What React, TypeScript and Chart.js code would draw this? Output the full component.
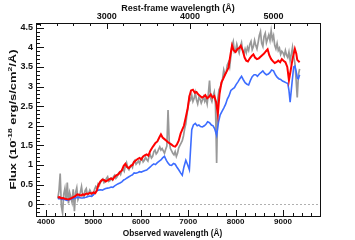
import React, { useEffect, useRef } from "react";
import { Chart, registerables } from "chart.js";

Chart.register(...registerables);

const REDSHIFT = 0.76;
const X_MIN = 3790;
const X_MAX = 9780;
const Y_MIN = -0.3;
const Y_MAX = 4.62;

const obsTicks = [4000, 5000, 6000, 7000, 8000, 9000];
const restTicks = [3000, 4000, 5000];
const fluxTicks = [0, 0.5, 1, 1.5, 2, 2.5, 3, 3.5, 4, 4.5];

const topTitle = "Rest-frame wavelength (Å)";
const bottomTitle = "Observed wavelength (Å)";
const yTitleParts = [
  { t: "Flux (10", sup: false },
  { t: "-18", sup: true },
  { t: " erg/s/cm", sup: false },
  { t: "2", sup: true },
  { t: "/Å)", sup: false },
];

const redWave = [4250, 4290, 4325, 4360, 4400, 4440, 4475, 4510, 4550, 4590, 4625, 4660, 4700, 4740, 4775, 4810, 4850, 4890, 4925, 4960, 5000, 5040, 5075, 5110, 5150, 5190, 5225, 5260, 5300, 5340, 5375, 5410, 5450, 5490, 5525, 5560, 5600, 5640, 5675, 5710, 5750, 5790, 5825, 5860, 5900, 5940, 5975, 6010, 6050, 6090, 6125, 6160, 6200, 6240, 6275, 6310, 6350, 6390, 6425, 6460, 6500, 6540, 6575, 6610, 6650, 6690, 6725, 6760, 6800, 6840, 6875, 6910, 6950, 6990, 7025, 7060, 7100, 7140, 7175, 7210, 7250, 7290, 7325, 7360, 7400, 7440, 7475, 7510, 7550, 7590, 7625, 7660, 7700, 7740, 7775, 7810, 7850, 7890, 7925, 7960, 8000, 8040, 8075, 8110, 8150, 8190, 8225, 8260, 8300, 8340, 8375, 8410, 8450, 8490, 8525, 8560, 8600, 8640, 8675, 8710, 8750, 8790, 8825, 8860, 8900, 8940, 8975, 9010, 9050, 9090, 9125, 9160, 9200, 9250, 9280, 9300, 9350];
const redFlux = [0.17, 0.18, 0.15, 0.16, 0.14, 0.13, 0.12, 0.14, 0.16, 0.19, 0.21, 0.25, 0.24, 0.22, 0.25, 0.24, 0.27, 0.26, 0.29, 0.27, 0.30, 0.28, 0.36, 0.50, 0.58, 0.63, 0.62, 0.58, 0.61, 0.64, 0.66, 0.63, 0.70, 0.74, 0.76, 0.82, 0.86, 0.98, 1.03, 0.95, 0.92, 0.98, 1.00, 1.08, 1.12, 1.16, 1.18, 1.14, 1.22, 1.25, 1.27, 1.24, 1.36, 1.44, 1.50, 1.56, 1.60, 1.70, 1.78, 1.70, 1.66, 1.62, 1.58, 1.55, 1.52, 1.48, 1.47, 1.52, 1.62, 1.80, 1.90, 2.00, 2.22, 2.45, 2.75, 2.90, 2.92, 2.84, 2.86, 2.80, 2.76, 2.72, 2.74, 2.78, 2.70, 2.74, 2.80, 2.72, 2.76, 2.60, 2.30, 2.80, 3.10, 3.20, 3.30, 3.38, 3.48, 3.80, 4.05, 3.92, 3.88, 3.96, 3.98, 4.04, 3.92, 3.74, 3.66, 3.64, 3.72, 3.78, 3.82, 3.74, 3.70, 3.72, 3.76, 3.80, 3.84, 3.90, 3.95, 3.80, 3.70, 3.64, 3.60, 3.62, 3.66, 3.62, 3.70, 3.66, 3.62, 3.50, 3.16, 3.40, 3.70, 3.96, 3.84, 3.68, 3.62];

const blueWave = [4250, 4290, 4325, 4360, 4400, 4440, 4475, 4510, 4550, 4590, 4625, 4660, 4700, 4740, 4775, 4810, 4850, 4890, 4925, 4960, 5000, 5040, 5075, 5110, 5150, 5190, 5225, 5260, 5300, 5340, 5375, 5410, 5450, 5490, 5525, 5560, 5600, 5640, 5675, 5710, 5750, 5790, 5825, 5860, 5900, 5940, 5975, 6010, 6050, 6090, 6125, 6160, 6200, 6240, 6275, 6310, 6350, 6390, 6425, 6460, 6500, 6540, 6575, 6610, 6650, 6690, 6725, 6760, 6800, 6840, 6875, 6910, 6950, 6990, 7025, 7050, 7075, 7110, 7150, 7190, 7225, 7260, 7300, 7340, 7375, 7410, 7450, 7490, 7525, 7560, 7600, 7640, 7675, 7710, 7750, 7790, 7825, 7860, 7900, 7940, 7975, 8010, 8050, 8090, 8125, 8160, 8200, 8240, 8275, 8310, 8350, 8390, 8425, 8460, 8500, 8540, 8575, 8610, 8650, 8690, 8725, 8760, 8800, 8840, 8875, 8910, 8950, 8990, 9025, 9060, 9100, 9125, 9150, 9190, 9225, 9250, 9275, 9300, 9325, 9350];
const blueFlux = [0.14, 0.15, 0.13, 0.12, 0.12, 0.10, 0.11, 0.12, 0.14, 0.15, 0.16, 0.18, 0.17, 0.16, 0.16, 0.17, 0.18, 0.20, 0.21, 0.20, 0.24, 0.30, 0.34, 0.36, 0.37, 0.36, 0.38, 0.40, 0.41, 0.42, 0.44, 0.43, 0.47, 0.50, 0.52, 0.54, 0.57, 0.62, 0.64, 0.67, 0.70, 0.73, 0.75, 0.80, 0.79, 0.81, 0.83, 0.82, 0.84, 0.86, 0.87, 0.91, 0.95, 1.00, 1.03, 1.01, 1.06, 1.10, 1.13, 1.18, 1.22, 1.12, 1.05, 1.00, 0.99, 1.04, 1.02, 0.95, 0.88, 0.80, 0.74, 0.95, 1.12, 1.00, 0.88, 1.40, 1.90, 2.02, 2.06, 2.00, 2.02, 1.98, 1.97, 2.00, 2.04, 2.10, 2.08, 2.02, 2.00, 1.92, 1.76, 2.10, 2.28, 2.36, 2.45, 2.55, 2.68, 2.76, 2.90, 2.94, 2.97, 3.05, 3.12, 3.20, 3.26, 3.18, 3.10, 3.06, 3.04, 3.15, 3.25, 3.30, 3.30, 3.26, 3.32, 3.36, 3.40, 3.34, 3.30, 3.32, 3.36, 3.42, 3.40, 3.30, 3.24, 3.20, 3.18, 3.14, 3.12, 3.10, 3.08, 2.90, 2.60, 3.10, 3.50, 3.52, 3.40, 3.22, 3.20, 3.30];

const grayWave = [4250, 4275, 4300, 4325, 4350, 4375, 4400, 4425, 4450, 4475, 4500, 4525, 4550, 4575, 4600, 4625, 4650, 4675, 4700, 4725, 4750, 4775, 4800, 4825, 4850, 4875, 4900, 4925, 4950, 4975, 5000, 5025, 5050, 5075, 5100, 5125, 5150, 5175, 5200, 5225, 5250, 5275, 5300, 5325, 5350, 5375, 5400, 5425, 5450, 5475, 5500, 5525, 5550, 5575, 5600, 5625, 5650, 5675, 5700, 5725, 5750, 5775, 5800, 5825, 5850, 5875, 5900, 5925, 5950, 5975, 6000, 6025, 6050, 6075, 6100, 6125, 6150, 6175, 6200, 6225, 6250, 6275, 6300, 6325, 6350, 6375, 6400, 6425, 6450, 6475, 6500, 6525, 6550, 6575, 6600, 6625, 6650, 6675, 6700, 6725, 6750, 6775, 6800, 6825, 6850, 6875, 6900, 6925, 6950, 6975, 7000, 7025, 7050, 7075, 7100, 7125, 7150, 7175, 7200, 7225, 7250, 7275, 7300, 7325, 7350, 7375, 7400, 7425, 7450, 7475, 7500, 7525, 7550, 7575, 7600, 7625, 7650, 7675, 7700, 7725, 7750, 7775, 7800, 7825, 7850, 7875, 7900, 7925, 7950, 7975, 8000, 8025, 8050, 8075, 8100, 8125, 8150, 8175, 8200, 8225, 8250, 8275, 8300, 8325, 8350, 8375, 8400, 8425, 8450, 8475, 8500, 8525, 8550, 8575, 8600, 8625, 8650, 8675, 8700, 8725, 8750, 8775, 8800, 8825, 8850, 8875, 8900, 8925, 8950, 8975, 9000, 9025, 9050, 9075, 9100, 9125, 9150, 9175, 9200, 9225, 9250, 9275, 9300, 9325, 9350];
const grayFlux = [0.15, 0.35, 0.78, -0.05, -0.22, 0.25, 0.40, 0.10, 0.55, 0.02, 0.30, 0.18, 0.05, 0.38, -0.18, 0.30, 0.42, 0.12, 0.20, 0.30, 0.45, 0.22, 0.18, 0.35, 0.40, 0.24, 0.28, 0.36, 0.30, 0.22, 0.26, 0.38, 0.45, 0.40, 0.52, 0.48, 0.56, 0.60, 0.64, 0.55, 0.58, 0.66, 0.70, 0.58, 0.60, 0.66, 0.62, 0.70, 0.74, 0.66, 0.70, 0.78, 0.82, 0.76, 0.86, 0.90, 0.84, 0.98, 1.06, 0.92, 0.88, 0.96, 1.00, 0.94, 1.08, 1.12, 1.02, 1.06, 1.10, 1.04, 1.14, 1.18, 1.08, 1.12, 1.20, 1.14, 1.10, 1.22, 1.26, 1.18, 1.22, 1.34, 1.38, 1.28, 1.32, 1.40, 1.46, 1.38, 1.42, 1.36, 1.30, 1.40, 1.48, 2.40, 1.60, 1.42, 1.36, 1.30, 1.26, 1.34, 1.22, 1.30, 1.44, 1.50, 1.56, 1.62, 1.74, 1.92, 2.05, 2.30, 2.50, 2.72, 2.66, 2.78, 2.62, 2.70, 2.84, 2.66, 2.56, 2.72, 2.68, 2.58, 2.66, 2.74, 2.62, 2.70, 2.56, 2.82, 3.15, 2.70, 2.62, 2.76, 2.86, 2.55, 1.05, 2.70, 2.92, 2.98, 3.05, 3.20, 3.42, 3.30, 3.36, 3.55, 3.62, 3.50, 3.78, 4.05, 4.15, 3.88, 3.92, 4.08, 3.96, 3.86, 4.02, 4.12, 3.90, 3.84, 3.96, 3.86, 4.00, 3.92, 4.08, 4.15, 3.94, 4.02, 4.18, 4.05, 3.96, 4.12, 4.30, 4.40, 4.10, 4.02, 4.28, 4.36, 4.12, 4.22, 4.32, 4.18, 4.42, 4.20, 4.30, 4.05, 3.96, 4.10, 3.92, 3.98, 3.82, 3.90, 3.86, 3.78, 3.92, 3.80, 3.74, 3.88, 3.66, 3.82, 4.00, 3.76, 3.60, 3.20, 2.72, 3.30, 3.45];

const toPoints = (xs: number[], ys: number[]) => xs.map((x, i) => ({ x, y: ys[i] }));

const FONT = "'Liberation Sans', Arial, Helvetica, sans-serif";
const INK = "#111";

const framePlugin = {
  id: "idlFrame",
  beforeDatasetsDraw(chart: any) {
    const { ctx, chartArea } = chart;
    const py = chart.scales.y.getPixelForValue(0);
    ctx.save();
    ctx.strokeStyle = "#b0b0b0";
    ctx.lineWidth = 1;
    ctx.setLineDash([2, 2]);
    ctx.beginPath();
    ctx.moveTo(chartArea.left, Math.round(py) + 0.5);
    ctx.lineTo(chartArea.right, Math.round(py) + 0.5);
    ctx.stroke();
    ctx.restore();
  },
  afterDraw(chart: any) {
    const { ctx, chartArea } = chart;
    const { left, right, top, bottom } = chartArea;
    const xs = chart.scales.x;
    const xt = chart.scales.xTop;
    const ys = chart.scales.y;
    ctx.save();
    ctx.strokeStyle = INK;
    ctx.lineWidth = 1;
    ctx.strokeRect(Math.round(left) + 0.5, Math.round(top) + 0.5, Math.round(right - left), Math.round(bottom - top));
    const line = (x1: number, y1: number, x2: number, y2: number) => {
      ctx.beginPath();
      ctx.moveTo(x1, y1);
      ctx.lineTo(x2, y2);
      ctx.stroke();
    };
    for (let i = 19; i * 200 <= X_MAX; i++) {
      const v = i * 200;
      if (v < X_MIN) continue;
      const px = Math.round(xs.getPixelForValue(v)) + 0.5;
      line(px, bottom, px, bottom - (v % 1000 === 0 ? 6 : 3));
    }
    for (let i = 10; i * 200 <= xt.max; i++) {
      const v = i * 200;
      if (v < xt.min) continue;
      const px = Math.round(xt.getPixelForValue(v)) + 0.5;
      line(px, top, px, top + (v % 1000 === 0 ? 6 : 3));
    }
    for (let i = -2; i <= 46; i++) {
      const py = Math.round(ys.getPixelForValue(i / 10)) + 0.5;
      line(left, py, left + (i % 5 === 0 ? 8 : 4), py);
    }

    ctx.fillStyle = INK;
    ctx.textAlign = "center";
    ctx.textBaseline = "alphabetic";
    ctx.font = `bold 9px ${FONT}`;
    ctx.fillText(topTitle, (left + right) / 2, 10.5);
    ctx.font = `bold 8.3px ${FONT}`;
    ctx.fillText(bottomTitle, 172.5, 235.7);

    const mainFont = `bold 9px ${FONT}`;
    const supFont = `bold 6px ${FONT}`;
    let w = 0;
    const widths = yTitleParts.map((p) => {
      ctx.font = p.sup ? supFont : mainFont;
      const m = ctx.measureText(p.t).width;
      w += m;
      return m;
    });
    const sx = 140 / w;
    ctx.translate(15.8, (top + bottom) / 2);
    ctx.rotate(-Math.PI / 2);
    ctx.scale(sx, 1);
    ctx.textAlign = "left";
    let cx = -w / 2;
    yTitleParts.forEach((p, i) => {
      ctx.font = p.sup ? supFont : mainFont;
      ctx.fillText(p.t, cx, p.sup ? -4 : 0);
      cx += widths[i];
    });
    ctx.restore();
  },
};

export default function App() {
  const ref = useRef<HTMLCanvasElement>(null);
  useEffect(() => {
    if (!ref.current) return;
    Chart.defaults.font.family = FONT;
    const chart = new Chart(ref.current, {
      type: "line",
      data: {
        datasets: [
          {
            label: "model red",
            data: toPoints(redWave, redFlux),
            borderColor: "#ff0000",
            borderWidth: 2,
            pointRadius: 0,
            tension: 0,
            order: 1,
            xAxisID: "x",
            yAxisID: "y",
          },
          {
            label: "model blue",
            data: toPoints(blueWave, blueFlux),
            borderColor: "#3d6dff",
            borderWidth: 1.6,
            pointRadius: 0,
            tension: 0,
            order: 2,
            xAxisID: "x",
            yAxisID: "y",
          },
          {
            label: "observed",
            data: toPoints(grayWave, grayFlux),
            borderColor: "#999999",
            borderWidth: 1.7,
            pointRadius: 0,
            tension: 0,
            order: 3,
            xAxisID: "x",
            yAxisID: "y",
          },
        ],
      },
      options: {
        animation: false,
        responsive: false,
        maintainAspectRatio: false,
        layout: { padding: { left: 0, right: 35, top: 0, bottom: 0 } },
        plugins: { legend: { display: false }, tooltip: { enabled: false } },
        scales: {
          x: {
            type: "linear",
            position: "bottom",
            min: X_MIN,
            max: X_MAX,
            afterBuildTicks: (s: any) => {
              s.ticks = obsTicks.map((v) => ({ value: v }));
            },
            afterFit: (s: any) => {
              s.height = 24;
            },
            grid: { display: false, drawTicks: false },
            border: { display: false },
            ticks: { font: { family: FONT, size: 8, weight: "bold" }, color: INK, padding: 1, maxRotation: 0, autoSkip: false, callback: (v: any) => String(v) },
            title: { display: false },
          },
          xTop: {
            type: "linear",
            position: "top",
            min: X_MIN / (1 + REDSHIFT),
            max: X_MAX / (1 + REDSHIFT),
            afterBuildTicks: (s: any) => {
              s.ticks = restTicks.map((v) => ({ value: v }));
            },
            afterFit: (s: any) => {
              s.height = 23;
            },
            grid: { display: false, drawTicks: false },
            border: { display: false },
            ticks: { font: { family: FONT, size: 9, weight: "bold" }, color: INK, padding: 1, maxRotation: 0, autoSkip: false, callback: (v: any) => String(v) },
            title: { display: false },
          },
          y: {
            type: "linear",
            position: "left",
            min: Y_MIN,
            max: Y_MAX,
            afterBuildTicks: (s: any) => {
              s.ticks = fluxTicks.map((v) => ({ value: v }));
            },
            afterFit: (s: any) => {
              s.width = 36;
            },
            grid: { display: false, drawTicks: false },
            border: { display: false },
            ticks: { font: { family: FONT, size: 9, weight: "bold" }, color: INK, padding: 3, autoSkip: false, callback: (v: any) => String(v) },
            title: { display: false },
          },
        },
      },
      plugins: [framePlugin],
    } as any);
    return () => chart.destroy();
  }, []);
  return (
    <div style={{ position: "fixed", left: 0, top: 0, width: 355, height: 240, background: "#fff" }}>
      <canvas ref={ref} width={355} height={240} style={{ display: "block", width: 355, height: 240 }} />
    </div>
  );
}
